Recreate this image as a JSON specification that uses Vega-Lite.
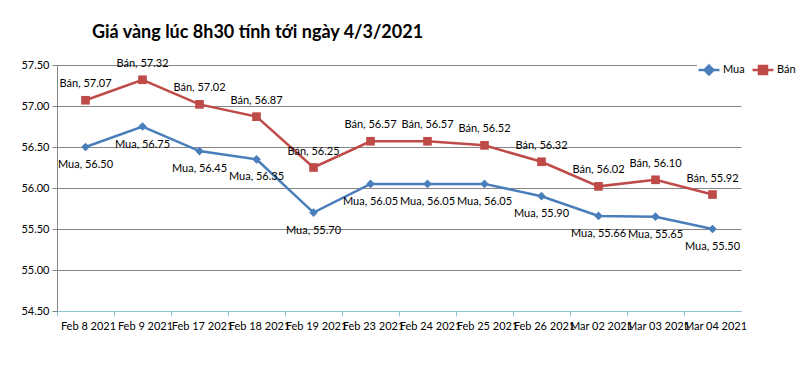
{
  "$schema": "https://vega.github.io/schema/vega-lite/v6.json",
  "width": 684,
  "height": 246,
  "autosize": {"type": "none"},
  "padding": {"left": 57, "top": 65, "right": 59, "bottom": 59},
  "background": "white",
  "title": {
    "text": "Giá vàng lúc 8h30 tính tới ngày 4/3/2021",
    "anchor": "start",
    "frame": "group",
    "dx": 35,
    "offset": 16,
    "font": "Lato",
    "fontSize": 18,
    "fontWeight": "bold",
    "color": "#000000"
  },
  "config": {"view": {"stroke": null}, "font": "Lato"},
  "data": {
    "values": [
      {"date": "Feb 8 2021", "series": "Mua", "value": 56.50},
      {"date": "Feb 9 2021", "series": "Mua", "value": 56.75},
      {"date": "Feb 17 2021", "series": "Mua", "value": 56.45},
      {"date": "Feb 18 2021", "series": "Mua", "value": 56.35},
      {"date": "Feb 19 2021", "series": "Mua", "value": 55.70},
      {"date": "Feb 23 2021", "series": "Mua", "value": 56.05},
      {"date": "Feb 24 2021", "series": "Mua", "value": 56.05},
      {"date": "Feb 25 2021", "series": "Mua", "value": 56.05},
      {"date": "Feb 26 2021", "series": "Mua", "value": 55.90},
      {"date": "Mar 02 2021", "series": "Mua", "value": 55.66},
      {"date": "Mar 03 2021", "series": "Mua", "value": 55.65},
      {"date": "Mar 04 2021", "series": "Mua", "value": 55.50},
      {"date": "Feb 8 2021", "series": "Bán", "value": 57.07},
      {"date": "Feb 9 2021", "series": "Bán", "value": 57.32},
      {"date": "Feb 17 2021", "series": "Bán", "value": 57.02},
      {"date": "Feb 18 2021", "series": "Bán", "value": 56.87},
      {"date": "Feb 19 2021", "series": "Bán", "value": 56.25},
      {"date": "Feb 23 2021", "series": "Bán", "value": 56.57},
      {"date": "Feb 24 2021", "series": "Bán", "value": 56.57},
      {"date": "Feb 25 2021", "series": "Bán", "value": 56.52},
      {"date": "Feb 26 2021", "series": "Bán", "value": 56.32},
      {"date": "Mar 02 2021", "series": "Bán", "value": 56.02},
      {"date": "Mar 03 2021", "series": "Bán", "value": 56.10},
      {"date": "Mar 04 2021", "series": "Bán", "value": 55.92}
    ]
  },
  "transform": [
    {"calculate": "datum.series + ', ' + format(datum.value, '.2f')", "as": "label"}
  ],
  "encoding": {
    "x": {
      "field": "date",
      "type": "ordinal",
      "sort": null,
      "scale": {"type": "band", "paddingInner": 0, "paddingOuter": 0},
      "axis": {
        "title": null,
        "bandPosition": 0,
        "labelAngle": 0,
        "labelFont": "Lato",
        "labelFontSize": 11,
        "labelColor": "#000000",
        "labelOffset": 3,
        "labelPadding": 4,
        "domainColor": "#8CC4D4",
        "domainWidth": 1,
        "tickColor": "#8CC4D4",
        "tickSize": 5,
        "grid": false,
        "labelOverlap": false
      }
    },
    "y": {
      "field": "value",
      "type": "quantitative",
      "scale": {"domain": [54.5, 57.5], "zero": false, "nice": false},
      "axis": {
        "title": null,
        "values": [54.5, 55, 55.5, 56, 56.5, 57, 57.5],
        "format": ".2f",
        "labelFont": "Lato",
        "labelFontSize": 11,
        "labelColor": "#000000",
        "labelPadding": 3,
        "domainColor": "#868686",
        "tickColor": "#868686",
        "tickSize": 5,
        "gridColor": "#868686",
        "gridWidth": 1
      }
    },
    "color": {
      "field": "series",
      "type": "nominal",
      "scale": {"domain": ["Mua", "Bán"], "range": ["#4A7EBB", "#BE4B48"]},
      "legend": {
        "title": null,
        "orient": "none",
        "legendX": 640,
        "legendY": -7,
        "direction": "horizontal",
        "gridAlign": "none",
        "labelFont": "Lato",
        "labelFontSize": 11,
        "labelColor": "#000000",
        "labelOffset": 2,
        "fillColor": "white",
        "padding": 0,
        "columnPadding": 2,
        "symbolSize": 441,
        "symbolStrokeWidth": 2.5,
        "encode": {
          "symbols": {
            "update": {
              "shape": {"signal": "datum.value === 'Mua' ? 'M-1,0L1,0M0,-0.42L0.42,0L0,0.42L-0.42,0Z' : 'M-1,0L1,0M-0.38,-0.38L0.38,-0.38L0.38,0.38L-0.38,0.38Z'"},
              "stroke": {"signal": "datum.value === 'Mua' ? '#4A7EBB' : '#BE4B48'"},
              "fill": {"signal": "datum.value === 'Mua' ? '#4A7EBB' : '#BE4B48'"},
              "strokeWidth": {"value": 2.5},
              "opacity": {"value": 1}
            }
          }
        }
      }
    }
  },
  "layer": [
    {"mark": {"type": "line", "strokeWidth": 2.5}},
    {
      "transform": [{"filter": "datum.series === 'Mua'"}],
      "mark": {"type": "point", "shape": "diamond", "filled": true, "opacity": 1, "size": 75}
    },
    {
      "transform": [{"filter": "datum.series === 'Bán'"}],
      "mark": {"type": "point", "shape": "square", "filled": true, "opacity": 1, "size": 75}
    },
    {
      "transform": [{"filter": "datum.series === 'Bán'"}],
      "mark": {"type": "text", "dy": -16, "font": "Lato", "fontSize": 11, "color": "#000000"},
      "encoding": {"text": {"field": "label"}, "color": {"value": "#000000"}}
    },
    {
      "transform": [{"filter": "datum.series === 'Mua'"}],
      "mark": {"type": "text", "dy": 18, "font": "Lato", "fontSize": 11, "color": "#000000"},
      "encoding": {"text": {"field": "label"}, "color": {"value": "#000000"}}
    }
  ]
}
